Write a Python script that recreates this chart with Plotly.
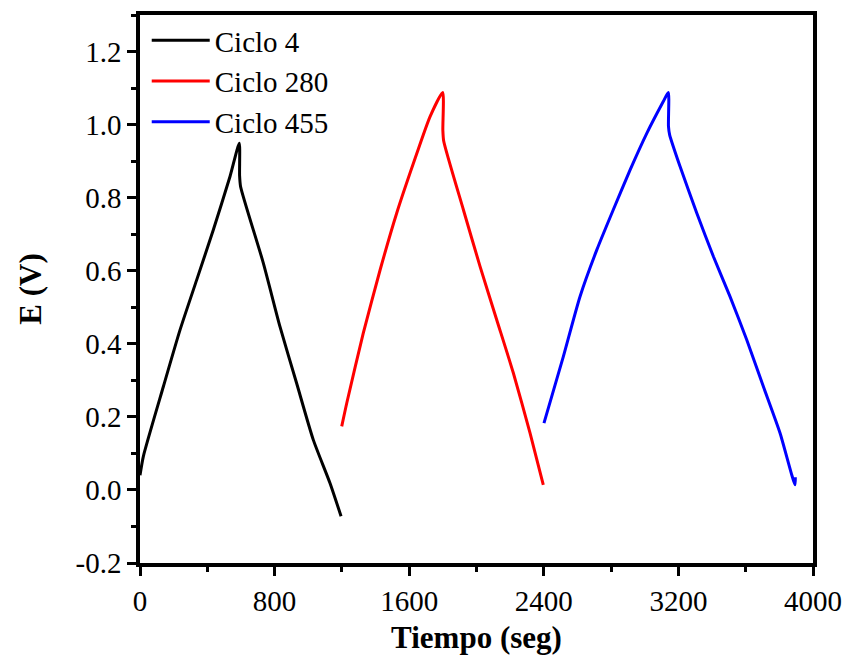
import plotly.graph_objects as go

# Galvanostatic charge/discharge curves: time (s) vs potential (V)
t_ciclo4 = [0, 20, 139, 238, 337, 436, 535, 590, 592, 598, 733, 832, 931, 1030, 1129, 1195]
e_ciclo4 = [0.04, 0.092, 0.283, 0.438, 0.575, 0.712, 0.858, 0.949, 0.86, 0.830, 0.621, 0.447, 0.292, 0.137, 0.019, -0.072]

t_ciclo280 = [1199, 1229, 1327, 1427, 1526, 1625, 1724, 1799, 1800, 1805, 1922, 2021, 2120, 2219, 2318, 2397]
e_ciclo280 = [0.174, 0.238, 0.429, 0.602, 0.758, 0.894, 1.022, 1.088, 0.985, 0.955, 0.767, 0.612, 0.466, 0.320, 0.156, 0.014]

t_ciclo455 = [2401, 2516, 2615, 2715, 2813, 2913, 3012, 3110, 3140, 3141, 3148, 3210, 3309, 3408, 3507, 3606, 3705, 3804, 3893, 3895]
e_ciclo455 = [0.183, 0.365, 0.529, 0.657, 0.767, 0.876, 0.976, 1.063, 1.088, 0.995, 0.972, 0.885, 0.758, 0.639, 0.529, 0.411, 0.283, 0.156, 0.014, 0.035]

series_names = ["Ciclo 4", "Ciclo 280", "Ciclo 455"]
series_colors = ["#000000", "#ff0000", "#0000ff"]

x_tickvals = [0, 800, 1600, 2400, 3200, 4000]
x_ticktext = ["0", "800", "1600", "2400", "3200", "4000"]
y_tickvals = [-0.2, 0.0, 0.2, 0.4, 0.6, 0.8, 1.0, 1.2]
y_ticktext = ["-0.2", "0.0", "0.2", "0.4", "0.6", "0.8", "1.0", "1.2"]

FONT = "Liberation Serif"

fig = go.Figure()
for t, e, name, color in zip(
    [t_ciclo4, t_ciclo280, t_ciclo455],
    [e_ciclo4, e_ciclo280, e_ciclo455],
    series_names,
    series_colors,
):
    fig.add_trace(go.Scatter(
        x=t, y=e, mode="lines", name=name,
        line=dict(color=color, width=3, shape="spline", smoothing=0.6),
    ))

axis_common = dict(
    showline=True, linecolor="black", linewidth=3.5, mirror=True,
    ticks="outside", ticklen=9, tickwidth=3, tickcolor="black",
    showgrid=False, zeroline=False,
    tickfont=dict(family=FONT, size=29, color="black"),
)

fig.update_xaxes(
    range=[0, 4000], tickvals=x_tickvals, ticktext=x_ticktext,
    minor=dict(dtick=400, ticks="outside", ticklen=5, tickwidth=3, tickcolor="black", showgrid=False),
    title=dict(text="<b>Tiempo (seg)</b>", font=dict(family=FONT, size=31, color="black"), standoff=12),
    **axis_common,
)
fig.update_yaxes(
    range=[-0.2, 1.3], tickvals=y_tickvals, ticktext=y_ticktext,
    minor=dict(tick0=-0.2, dtick=0.1, ticks="outside", ticklen=5, tickwidth=3, tickcolor="black", showgrid=False),
    title=dict(text="<b>E (V)</b>", font=dict(family=FONT, size=31, color="black"), standoff=26),
    **axis_common,
)

fig.update_layout(
    width=844, height=660,
    margin=dict(l=140, r=31, t=15, b=97, autoexpand=False),
    paper_bgcolor="white", plot_bgcolor="white",
    font=dict(family=FONT, color="black"),
    showlegend=True,
    legend=dict(
        x=0.01, y=1.0, xanchor="left", yanchor="top",
        font=dict(family=FONT, size=29, color="black"),
        bgcolor="rgba(0,0,0,0)", borderwidth=0,
        tracegroupgap=0, itemwidth=58,
    ),
)

fig.write_html("out.html")
